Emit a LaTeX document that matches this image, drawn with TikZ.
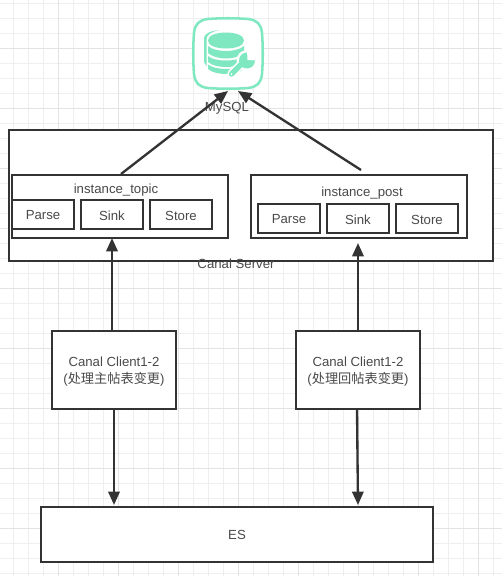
\documentclass[tikz,border=0pt]{standalone}
\usepackage{fontspec}
\setmainfont{Liberation Sans}
\newfontfamily\cjk{Noto Sans CJK SC}
\usetikzlibrary{calc,arrows.meta}
\definecolor{ink}{HTML}{333333}
\definecolor{txt}{HTML}{4A4A4A}
\definecolor{gridminor}{HTML}{EFEFEF}
\definecolor{gridmajor}{HTML}{E3E3E3}
\definecolor{mint}{HTML}{7FE8C0}
\newcommand{\nudged}[1]{\raisebox{-.75pt}[\height][\depth]{#1}}
\tikzset{
  box/.style={draw=ink,line width=1.75pt,fill=white,inner sep=0pt,outer sep=0pt,anchor=north west,align=center,text=txt,font=\fontsize{9.9}{12.8}\selectfont},
  label/.style={inner sep=0pt,text=txt,font=\fontsize{9.9}{12.8}\selectfont,align=center},
  conn/.style={draw=ink,line width=1.75pt,-{Triangle[length=10pt,width=8.5pt]}},
  gridm/.style={gridminor,line width=.75pt},
  gridM/.style={gridmajor,line width=.75pt},
}
\begin{document}
\begin{tikzpicture}[x=.75pt,y=-.75pt]
\useasboundingbox (0,0) rectangle (502,576);
\fill[white] (0,0) rectangle (502,576);
\foreach \i in {-2,13,...,502}{\draw[gridm] (\i,0) -- (\i,576);}
\foreach \i in {3,18,...,576}{\draw[gridm] (0,\i) -- (502,\i);}
\foreach \i in {-2,58,...,502}{\draw[gridM] (\i,0) -- (\i,576);}
\foreach \i in {48,108,...,576}{\draw[gridM] (0,\i) -- (502,\i);}

% outer server
\node[box,minimum width=484*.75pt,minimum height=131*.75pt] (server) at (9,130) {};
\node[label] (serverlabel) at (236,264) {Canal Server};

% instance topic
\node[box,minimum width=216*.75pt,minimum height=63*.75pt] (topic) at (12,175) {};
\node[label] (topiclabel) at (116,190) {instance\_topic};
\node[box,minimum width=62*.75pt,minimum height=29*.75pt] (p1) at (12,200) {\nudged{Parse}};
\node[box,minimum width=62*.75pt,minimum height=29*.75pt] (s1) at (81,200) {\nudged{Sink}};
\node[box,minimum width=62*.75pt,minimum height=29*.75pt] (t1) at (150,200) {\nudged{Store}};

% instance post
\node[box,minimum width=216*.75pt,minimum height=63*.75pt] (post) at (251,175) {};
\node[label] (postlabel) at (362,193.5) {instance\_post};
\node[box,minimum width=62*.75pt,minimum height=29*.75pt] (p2) at (258,204) {\nudged{Parse}};
\node[box,minimum width=62*.75pt,minimum height=29*.75pt] (s2) at (327,204) {\nudged{Sink}};
\node[box,minimum width=62*.75pt,minimum height=29*.75pt] (t2) at (396,204) {\nudged{Store}};

% clients
\node[box,minimum width=124*.75pt,minimum height=78*.75pt] (c1) at (52,331) {};
\node[label] (c1label) at (114,372) {Canal Client1-2\\({\cjk 处理主帖表变更})};
\node[box,minimum width=124*.75pt,minimum height=78*.75pt] (c2) at (296,331) {};
\node[label] (c2label) at (358,372) {Canal Client1-2\\({\cjk 处理回帖表变更})};
\node[box,minimum width=392*.75pt,minimum height=55*.75pt] (es) at (41,507) {ES};

% icon
\node[inner sep=0pt,outer sep=0pt,minimum width=70*.75pt,minimum height=71*.75pt] (mysql) at (228,53.5) {};
\draw[mint,line width=1.9pt,fill=white]
  (208,19) .. controls (220,18) and (236,18) .. (248,19)
  .. controls (257,20) and (261,24) .. (262,33)
  .. controls (263,45) and (263,62) .. (262,74)
  .. controls (261,83) and (257,87) .. (248,88)
  .. controls (236,89) and (220,89) .. (208,88)
  .. controls (199,87) and (195,83) .. (194,74)
  .. controls (193,62) and (193,45) .. (194,33)
  .. controls (195,24) and (199,20) .. (208,19) -- cycle;
% ghost back layer
\fill[mint] (204,38) .. controls (204,34) and (210,31) .. (219,30)
  .. controls (211,32) and (206.5,35) .. (206.5,39) -- (206.5,66) -- (204,62) -- cycle;
% disks
\fill[mint] (208,40.5) .. controls (208,35.5) and (216,32.5) .. (226,32.5) .. controls (236,32.5) and (244,35.5) .. (244,40.5) .. controls (244,45.5) and (236,48.5) .. (226,48.5) .. controls (216,48.5) and (208,45.5) .. (208,40.5) -- cycle;
\fill[mint] (208,46) .. controls (212,49.5) and (219,51) .. (226,51) .. controls (233,51) and (240,49.5) .. (244,46) -- (244,53) .. controls (240,56.5) and (233,58.5) .. (226,58.5) .. controls (219,58.5) and (212,56.5) .. (208,53) -- cycle;
\fill[mint] (208,56) .. controls (212,59.5) and (219,60.5) .. (226,60.5) .. controls (233,60.5) and (240,59.5) .. (244,56) -- (244,62) .. controls (240,65.5) and (233,67) .. (226,67) .. controls (219,67) and (212,65.5) .. (208,62) -- cycle;
\fill[mint] (208,64.5) .. controls (212,67.5) and (219,69) .. (226,69) .. controls (233,69) and (240,67.5) .. (244,64.5) -- (244,69) .. controls (240,72.5) and (233,74) .. (226,74) .. controls (219,74) and (212,72.5) .. (208,69) -- cycle;
% wrench with white halo
\draw[white,line width=6.4pt,line cap=round] (231.5,74) -- (243,62.5);
\fill[white] (247,60.5) circle[radius=10.5];
\draw[mint,line width=4pt,line cap=round] (231.5,74) -- (243,62.5);
\fill[mint] (247,60.5) circle[radius=8];
\fill[white] (247.5,60) -- (247,50) -- (258,50) -- (258,60.5) -- cycle;
\fill[white] (231.5,74) circle[radius=1];

\node[label] (mysqllabel) at (227,108) {MySQL};

% connectors
\draw[conn] ($(topic.north)+(1,-1)$) -- ($(mysql.south)+(0,2)$);
\draw[conn] ($(post.north)+(2,-5)$) -- ($(mysql.south)+(10,2)$);
\draw[conn] ($(c1.north)+(-2,0)$) -- ($(topic.south)+(-8,0)$);
\draw[conn] ($(c2.north)+(0,0)$) -- ($(post.south)+(-1,5)$);
\draw[conn] (c1.south) -- ($(es.north)+(-123,-2)$);
\draw[conn] ($(c2.south)+(-1,0)$) -- ($(es.north)+(121,-2)$);
\end{tikzpicture}
\end{document}
